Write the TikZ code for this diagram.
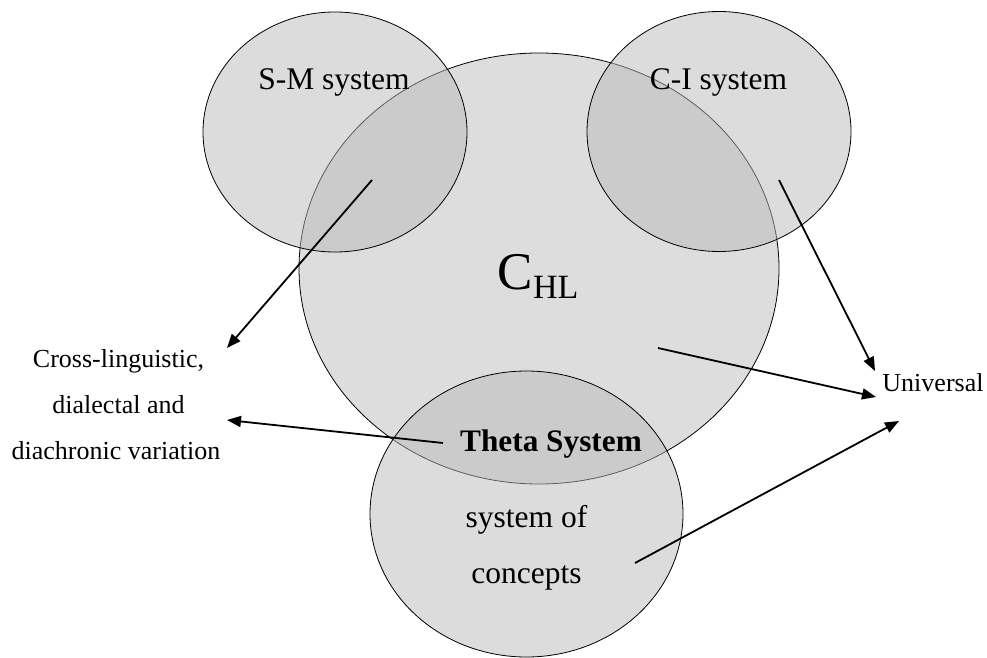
\documentclass[tikz,border=0pt]{standalone}
\usepackage{fontspec}
\setmainfont{Liberation Serif}
\usetikzlibrary{shapes.geometric,arrows.meta}
\begin{document}
\begin{tikzpicture}[x=1pt,y=-1pt,
  region/.style={ellipse,draw=black,line width=0.8pt,inner sep=0pt,outer sep=0pt},
  core/.style={region,fill=black!13.3},
  module/.style={region,fill=black!27,fill opacity=0.5,draw opacity=1},
  lbl/.style={anchor=base,inner sep=0pt,font=\fontsize{31.5}{31.5}\selectfont},
  side/.style={anchor=base,inner sep=0pt,font=\fontsize{26}{26}\selectfont},
  link/.style={line width=1.8pt,-{Triangle[length=14pt,width=11pt]}}]
\useasboundingbox (0,0) rectangle (987,658);

% computational system and the three interfacing systems
\node[core, minimum width=480pt, minimum height=431pt] (chl) at (539,268.5) {};
\node[module, minimum width=264pt, minimum height=240pt] (sm) at (335,132) {};
\node[module, minimum width=264pt, minimum height=240pt] (ci) at (719,131.5) {};
\node[module, minimum width=313pt, minimum height=286pt] (concepts) at (526.5,514) {};

% labels
\node[lbl] (smlabel) at (334,90) {S-M system};
\node[lbl] (cilabel) at (718.5,90) {C-I system};
\node[anchor=base,inner sep=0pt,font=\fontsize{53}{53}\selectfont] (chllabel) at (538,289)
  {C\raisebox{-9pt}{\fontsize{34}{34}\selectfont HL}};
\node[lbl,font=\fontsize{31.3}{31.3}\selectfont\bfseries] (theta) at (551,451) {Theta System};
\node[lbl] (conc1) at (526.5,527) {system of};
\node[lbl] (conc2) at (526.5,583) {concepts};
\node[side] (var1) at (118.5,367) {Cross-linguistic,};
\node[side] (var2) at (118.5,413) {dialectal and};
\node[side] (var3) at (116,459) {diachronic variation};
\node[side] (univ) at (933,391) {Universal};

% arrow ends
\coordinate (smtail) at (372,180);
\coordinate (thetatail) at (443,443);
\coordinate (citail) at (779,180);
\coordinate (chltail) at (658,348);
\coordinate (conctail) at (635,563);
\coordinate (varA) at (227,348);
\coordinate (varB) at (227,420);
\coordinate (univA) at (875,371);
\coordinate (univB) at (876,397);
\coordinate (univC) at (899,421);

% connectors
\draw[link] (smtail) -- (varA);
\draw[link] (thetatail) -- (varB);
\draw[link] (citail) -- (univA);
\draw[link] (chltail) -- (univB);
\draw[link] (conctail) -- (univC);
\end{tikzpicture}
\end{document}
